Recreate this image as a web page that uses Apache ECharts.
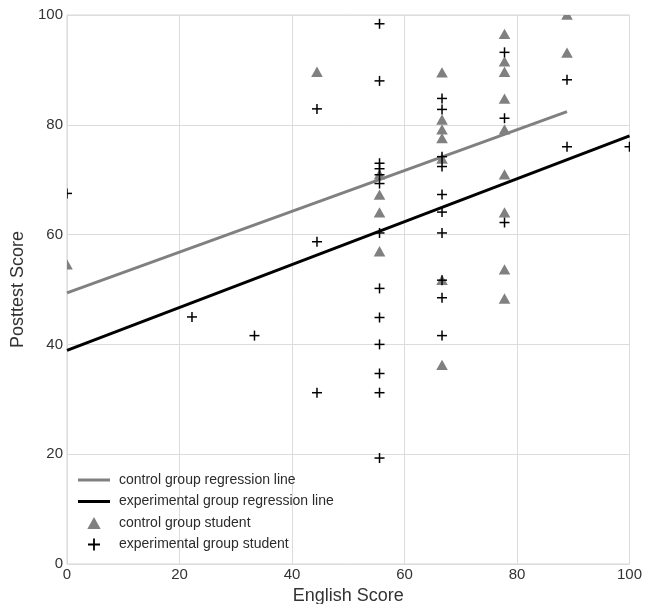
<!DOCTYPE html>
<html>
<head>
<meta charset="utf-8">
<script src="https://cdn.jsdelivr.net/npm/echarts@6/dist/echarts.min.js"></script>
<style>html,body{margin:0;padding:0;background:#fff}#chart{width:652px;height:604px}</style>
</head>
<body>
<div id="chart"></div>
<script>
// English score (x) vs posttest score (y)
var xTicks = [0, 20, 40, 60, 80, 100];
var yTicks = [0, 20, 40, 60, 80, 100];

var controlStudents = [
  [0, 54.5],
  [44.44, 89.6],
  [55.56, 70.9], [55.56, 67.2], [55.56, 64.0], [55.56, 56.9],
  [66.67, 89.5], [66.67, 80.9], [66.67, 79.1], [66.67, 77.5], [66.67, 73.8], [66.67, 51.7], [66.67, 36.2],
  [77.78, 96.5], [77.78, 91.5], [77.78, 89.6], [77.78, 84.7], [77.78, 79.1], [77.78, 70.9], [77.78, 64.0], [77.78, 53.6], [77.78, 48.3],
  [88.89, 100], [88.89, 93.1]
];

var experimentalStudents = [
  [0, 67.5],
  [22.22, 45.0],
  [33.33, 41.6],
  [44.44, 82.9], [44.44, 58.7], [44.44, 31.2],
  [55.56, 98.4], [55.56, 88.0], [55.56, 73.0], [55.56, 72.0], [55.56, 70.9], [55.56, 69.3], [55.56, 60.3],
  [55.56, 50.2], [55.56, 44.9], [55.56, 40.0], [55.56, 34.7], [55.56, 31.2], [55.56, 19.3],
  [66.67, 84.8], [66.67, 82.8], [66.67, 74.2], [66.67, 72.4], [66.67, 67.3], [66.67, 64.1], [66.67, 60.3],
  [66.67, 51.7], [66.67, 48.5], [66.67, 41.6],
  [77.78, 93.2], [77.78, 81.2], [77.78, 62.2],
  [88.89, 88.2], [88.89, 76.0],
  [100, 76.0]
];

var controlLine = [[0, 49.4], [88.89, 82.4]];
var experimentalLine = [[0, 38.9], [100, 78.0]];

var names = [
  'control group regression line',
  'experimental group regression line',
  'control group student',
  'experimental group student'
];

var FONT = '"Liberation Sans", Arial, sans-serif';
var chart = echarts.init(document.getElementById('chart'), null, {renderer: 'canvas'});

function triItem(params, api) {
  var p = api.coord([api.value(0), api.value(1)]);
  return {
    type: 'polygon',
    shape: {points: [[p[0], p[1] - 5.5], [p[0] + 5.8, p[1] + 4.8], [p[0] - 5.8, p[1] + 4.8]]},
    style: {fill: '#808080'}
  };
}
function plusItem(params, api) {
  var p = api.coord([api.value(0), api.value(1)]);
  return {
    type: 'group',
    children: [
      {type: 'line', shape: {x1: p[0] - 5, y1: p[1], x2: p[0] + 5, y2: p[1]}, style: {stroke: '#000', lineWidth: 1.5}},
      {type: 'line', shape: {x1: p[0], y1: p[1] - 5, x2: p[0], y2: p[1] + 5}, style: {stroke: '#000', lineWidth: 1.5}}
    ]
  };
}

var LINE_ICON = 'path://M0,0H32V3H0Z';

chart.setOption({
  animation: false,
  backgroundColor: '#fff',
  grid: {left: 67, right: 22.5, top: 15, bottom: 40, show: true, borderColor: '#d4d4d4', borderWidth: 1,
         containLabel: false, outerBoundsMode: 'none'},
  xAxis: {
    type: 'value', min: xTicks[0], max: xTicks[xTicks.length - 1], interval: 20,
    name: 'English Score', nameLocation: 'middle', nameGap: 19,
    nameTextStyle: {fontFamily: FONT, fontSize: 18, color: '#333'},
    axisLine: {show: false}, axisTick: {show: false},
    axisLabel: {fontFamily: FONT, fontSize: 15, color: '#333', margin: 3},
    splitLine: {show: true, lineStyle: {color: '#dcdcdc', width: 1}}
  },
  yAxis: {
    type: 'value', min: yTicks[0], max: yTicks[yTicks.length - 1], interval: 20,
    name: 'Posttest Score', nameLocation: 'middle', nameGap: 32,
    nameTextStyle: {fontFamily: FONT, fontSize: 18, color: '#333'},
    axisLine: {show: false}, axisTick: {show: false},
    axisLabel: {fontFamily: FONT, fontSize: 15, color: '#333', margin: 4},
    splitLine: {show: true, lineStyle: {color: '#dcdcdc', width: 1}}
  },
  legend: {
    orient: 'vertical', left: 78, top: 473, padding: 0,
    itemWidth: 32, itemHeight: 12, itemGap: 7.5,
    textStyle: {fontFamily: FONT, fontSize: 14, color: '#2b2b2b', padding: [0, 0, 0, 4]},
    data: [
      {name: names[0], icon: LINE_ICON},
      {name: names[1], icon: LINE_ICON},
      {name: names[2], icon: 'path://M5,0L10,9L0,9Z'},
      {name: names[3], icon: 'path://M4.25,0H5.75V4.25H10V5.75H5.75V10H4.25V5.75H0V4.25H4.25Z'}
    ],
    selectedMode: false
  },
  series: [
    {
      type: 'line', name: names[0], data: controlLine, symbol: 'none', showSymbol: false,
      lineStyle: {color: '#808080', width: 3}, itemStyle: {color: '#808080'}, z: 2
    },
    {
      type: 'line', name: names[1], data: experimentalLine, symbol: 'none', showSymbol: false,
      lineStyle: {color: '#000', width: 3}, itemStyle: {color: '#000'}, z: 2
    },
    {
      type: 'custom', name: names[2], coordinateSystem: 'cartesian2d', clip: true,
      data: controlStudents, encode: {x: 0, y: 1}, itemStyle: {color: '#808080'},
      renderItem: triItem, z: 3
    },
    {
      type: 'custom', name: names[3], coordinateSystem: 'cartesian2d', clip: true,
      data: experimentalStudents, encode: {x: 0, y: 1}, itemStyle: {color: '#000'},
      renderItem: plusItem, z: 4
    }
  ]
});
</script>
</body>
</html>
